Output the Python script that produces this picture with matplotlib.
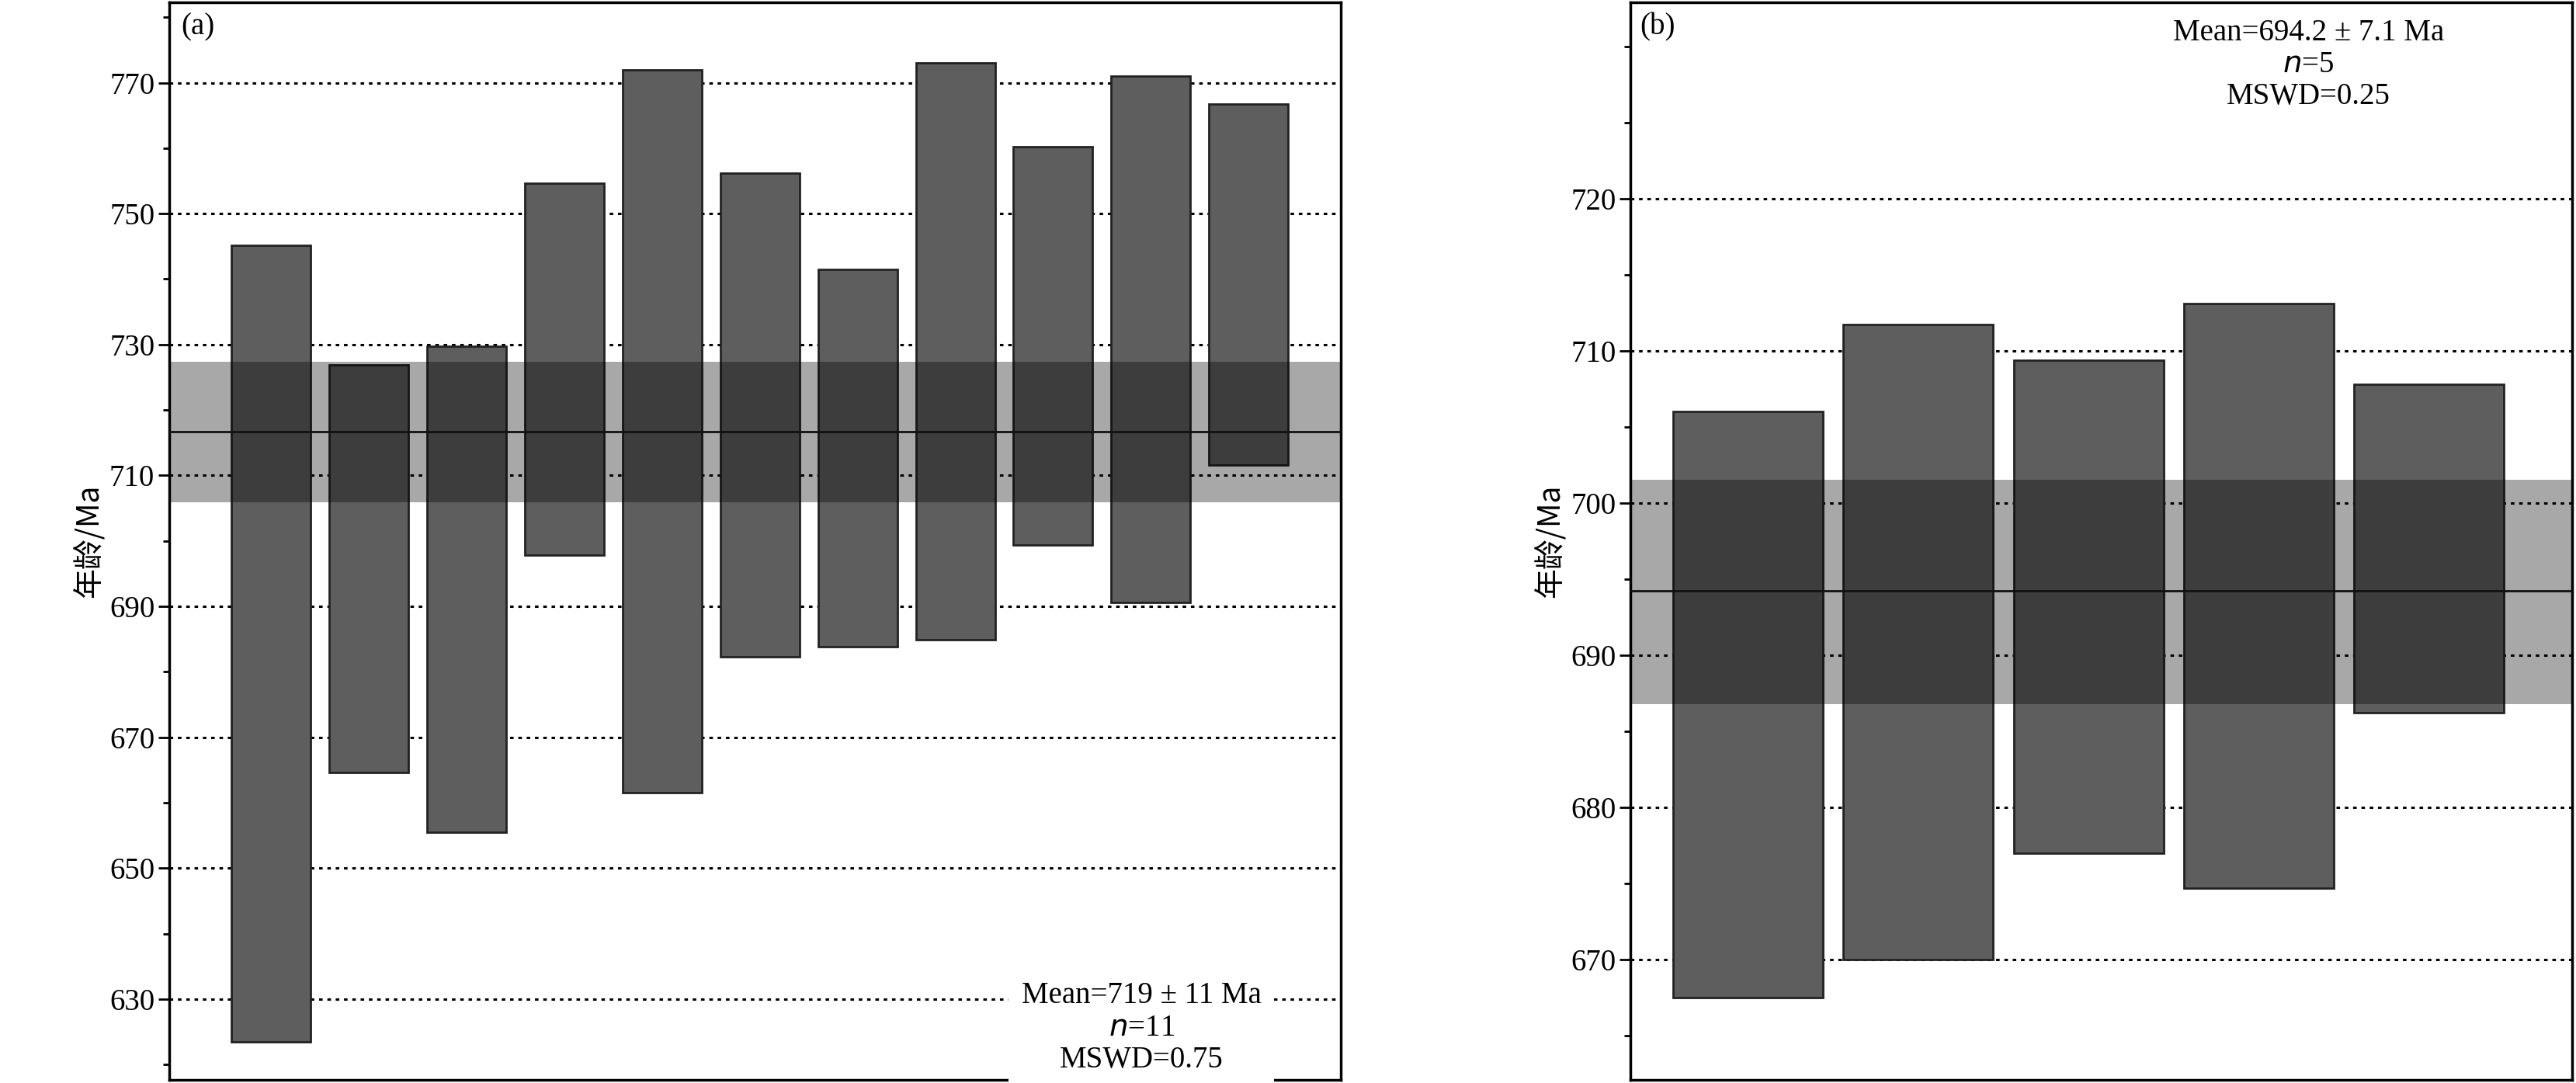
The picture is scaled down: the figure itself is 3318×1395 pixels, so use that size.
import matplotlib
matplotlib.use("Agg")
import matplotlib.pyplot as plt
from matplotlib.ticker import MultipleLocator

plt.rcParams['font.family'] = ['Liberation Serif', 'Noto Sans CJK SC']
plt.rcParams['axes.unicode_minus'] = False

# Panel (a)
a_top = [745.2, 726.9, 729.7, 754.7, 772.0, 756.2, 741.5, 773.0, 760.2, 771.0, 766.7]
a_bot = [623.5, 664.6, 655.5, 697.9, 661.6, 682.3, 683.9, 684.9, 699.4, 690.6, 711.6]
a_mean, a_band = 716.7, (705.9, 727.4)
a_text = ["Mean=719 ± 11 Ma", "$n$=11", "MSWD=0.75"]
a_ticks = [630, 650, 670, 690, 710, 730, 750, 770]

# Panel (b)
b_top = [706.0, 711.7, 709.4, 713.1, 707.8]
b_bot = [667.5, 670.0, 677.0, 674.7, 686.2]
b_mean, b_band = 694.2, (686.8, 701.5)
b_text = ["Mean=694.2 ± 7.1 Ma", "$n$=5", "MSWD=0.25"]
b_ticks = [670, 680, 690, 700, 710, 720]

fig = plt.figure(figsize=(33.18, 13.95), dpi=100)
axa = fig.add_axes([0.0657, 0.003, 0.4547, 0.995])
axb = fig.add_axes([0.633, 0.003, 0.3655, 0.995])

FS = 28
def draw(ax, tops, bots, mean, band, ylim, xlim, width, ticks, minor, label):
    xs = list(range(1, len(tops) + 1))
    ax.bar(xs, [t - b for t, b in zip(tops, bots)], bottom=bots, width=width,
           color='#5e5e5e', edgecolor='#222222', linewidth=2, zorder=2)
    ax.axhspan(band[0], band[1], color='black', alpha=0.34, lw=0, zorder=3)
    ax.axhline(mean, color='#111111', lw=2, zorder=4)
    ax.set_ylim(*ylim)
    ax.set_xlim(*xlim)
    ax.set_xticks([])
    ax.set_yticks(ticks)
    ax.yaxis.set_minor_locator(MultipleLocator(minor))
    ax.tick_params(axis='y', which='major', labelsize=FS, length=10, width=2, direction='out')
    ax.tick_params(axis='y', which='minor', length=6, width=2, direction='out')
    for t in ticks:
        ax.axhline(t, color='black', ls=(0, (1.5, 2)), lw=2.2, zorder=1)
    for s in ax.spines.values():
        s.set_linewidth(2.5)
    ax.set_ylabel("年龄/Ma", fontsize=FS, family=['Noto Sans CJK SC', 'DejaVu Sans'])
    ax.text(0.01, 0.99, label, transform=ax.transAxes, ha='left', va='top', fontsize=FS)

draw(axa, a_top, a_bot, a_mean, a_band, (617.7, 782.3), (-0.04, 11.94), 0.81,
     a_ticks, 10, "(a)")
draw(axb, b_top, b_bot, b_mean, b_band, (662.1, 732.9), (0.31, 5.84), 0.88,
     b_ticks, 5, "(b)")

axa.text(0.83, 0.005, "\n".join(a_text), transform=axa.transAxes, ha='center', va='bottom',
         fontsize=FS, linespacing=1.15, zorder=6,
         bbox=dict(facecolor='white', edgecolor='none', pad=12))
axb.text(0.72, 0.985, "\n".join(b_text), transform=axb.transAxes, ha='center', va='top',
         fontsize=FS, linespacing=1.15, zorder=6)

fig.savefig("out.png", dpi=100)
